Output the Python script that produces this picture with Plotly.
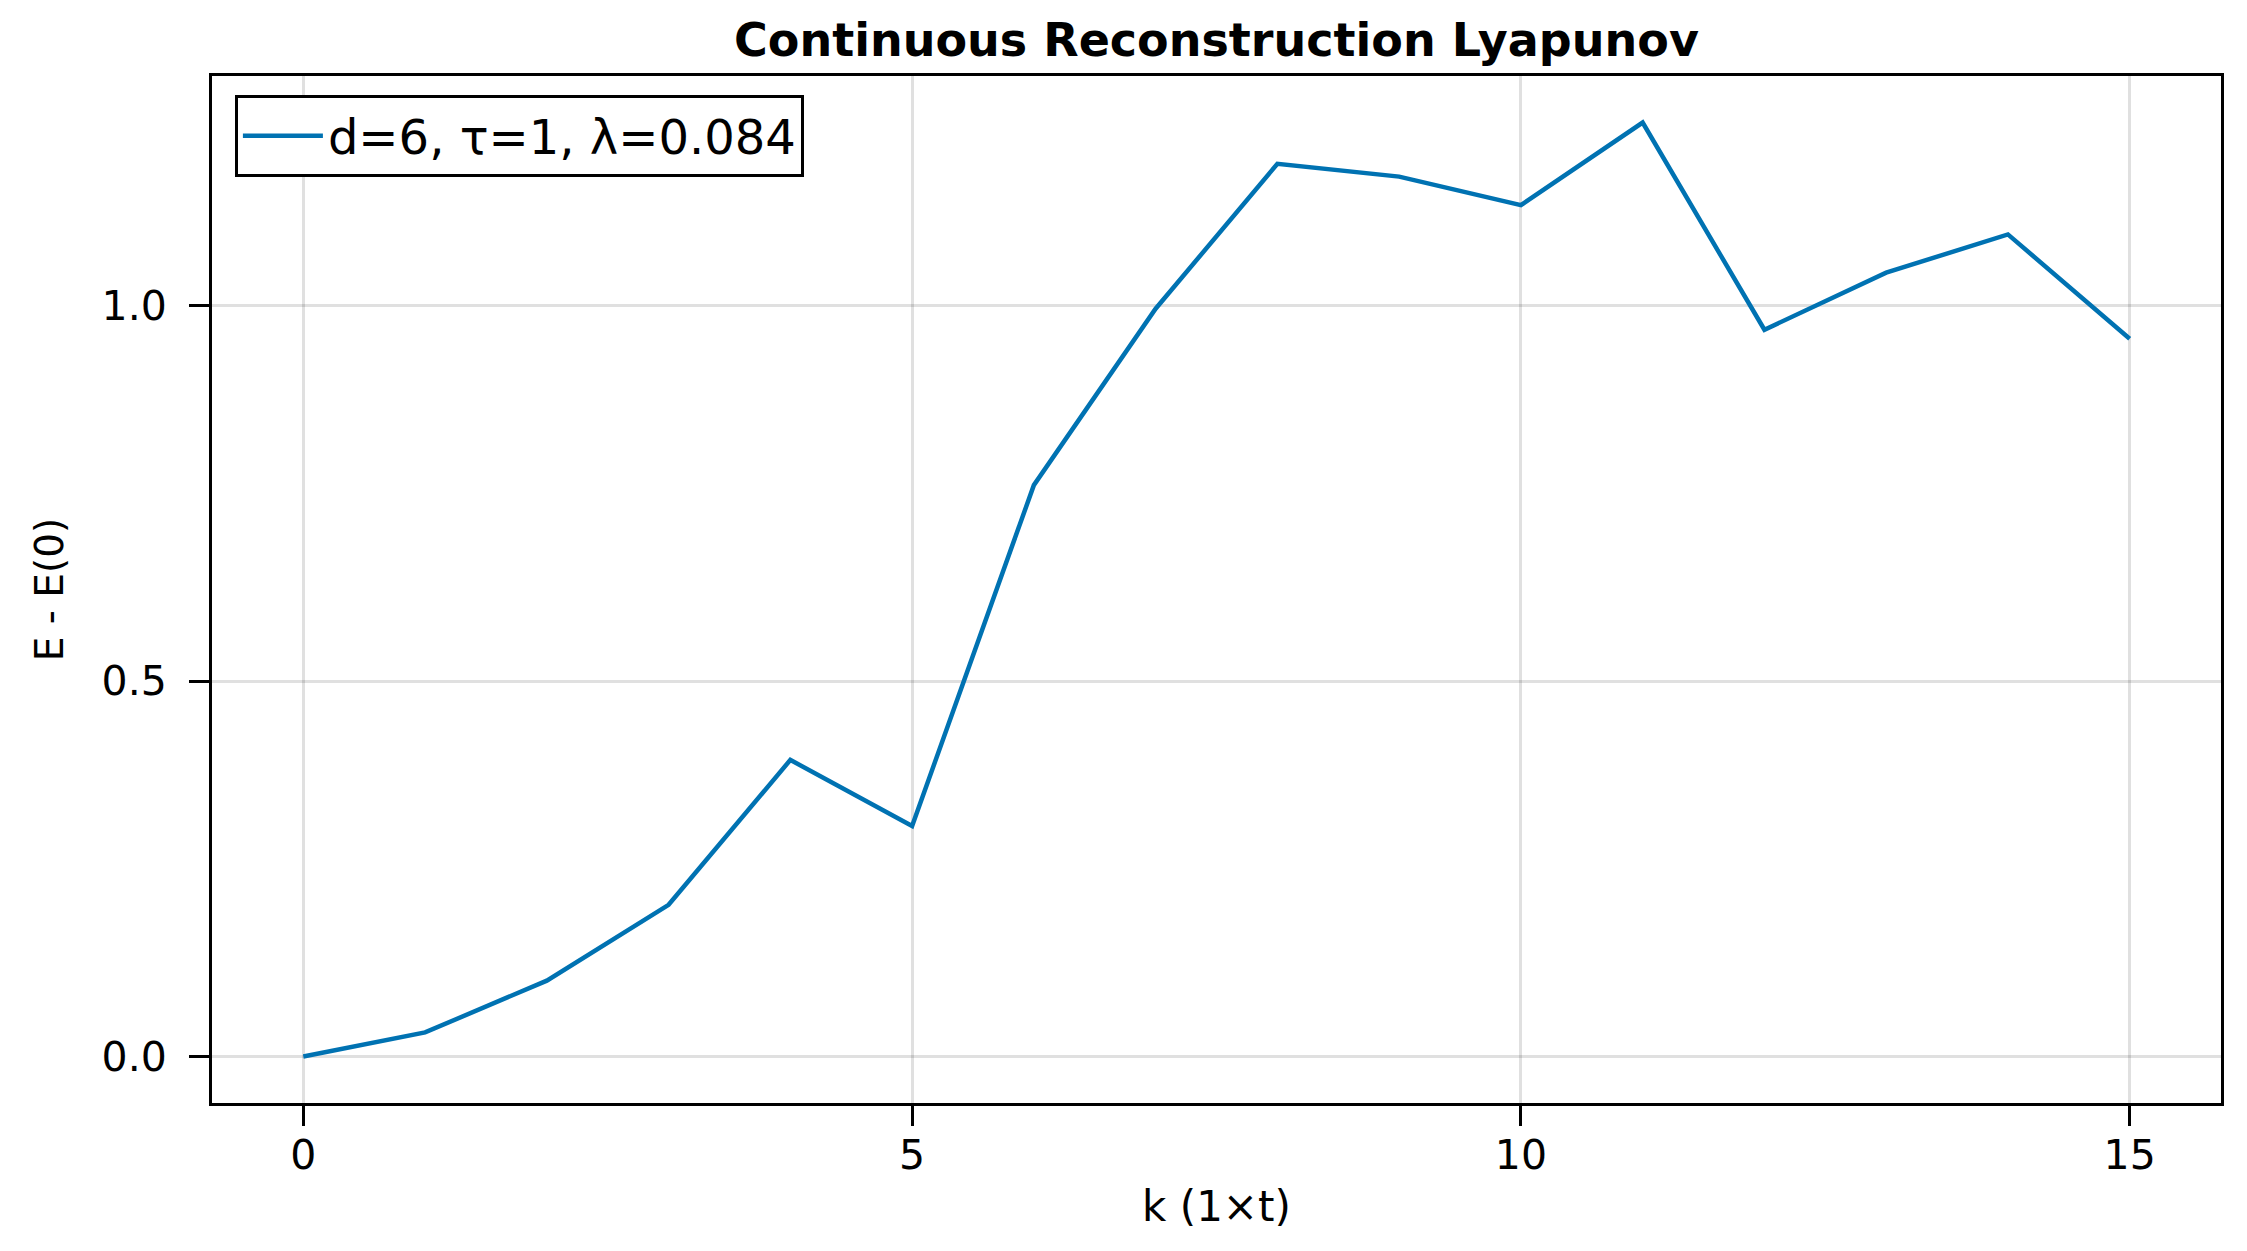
import plotly.graph_objects as go

# values
k = list(range(16))
delta_e = [0.0, 0.032, 0.101, 0.202, 0.395, 0.307, 0.761, 0.996,
           1.189, 1.172, 1.134, 1.244, 0.968, 1.044, 1.095, 0.956]
series_name = "d=6, τ=1, λ=0.084"

x_ticks = [0, 5, 10, 15]
y_ticks = [0.0, 0.5, 1.0]

font = "DejaVu Sans"

fig = go.Figure()
fig.add_trace(go.Scatter(x=k, y=delta_e, mode="lines", name=series_name,
                         line=dict(color="#0072B2", width=4.5)))

axis_common = dict(showline=True, mirror=True, linecolor="black", linewidth=3,
                   ticks="outside", ticklen=20, tickwidth=2.5, tickcolor="black",
                   showgrid=True, gridcolor="rgba(0,0,0,0.12)", gridwidth=2.5,
                   zeroline=False, automargin=False,
                   tickfont=dict(family=font, size=41, color="black"))

fig.update_xaxes(range=[-0.75, 15.75], tickvals=x_ticks, ticklabelstandoff=-6,
                 title=dict(text="k (1×t)", standoff=14,
                            font=dict(family=font, size=42, color="black")),
                 **axis_common)
fig.update_yaxes(range=[-0.062, 1.306], tickvals=y_ticks, tickformat=".1f",
                 ticklabelstandoff=14,
                 title=dict(text="E - E(0)", standoff=26,
                            font=dict(family=font, size=39, color="black")),
                 **axis_common)

# page body has an 8px margin, so the figure is 8px smaller and shifted
fig.update_layout(
    width=2239, height=1243,
    margin=dict(l=204, r=26, t=68, b=148),
    paper_bgcolor="white", plot_bgcolor="white",
    title=dict(text="<b>Continuous Reconstruction Lyapunov</b>",
               x=0.5, xref="paper", xanchor="center",
               y=1 - 32 / 1243, yref="container", yanchor="middle",
               font=dict(family=font, size=46, color="black")),
    showlegend=True,
    legend=dict(x=0.0114, y=0.9815, xanchor="left", yanchor="top",
                bgcolor="white", bordercolor="black", borderwidth=3,
                itemwidth=80,
                font=dict(family=font, size=48, color="black")),
)

fig.write_html("out.html")
